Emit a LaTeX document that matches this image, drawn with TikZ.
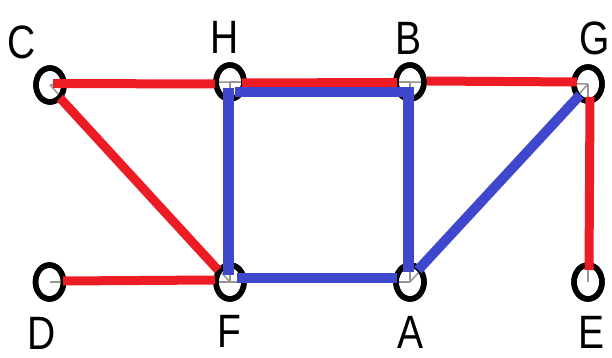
\documentclass[tikz,border=0pt]{standalone}
\usepackage{fontspec}
\setmainfont{Liberation Sans}
\usetikzlibrary{shapes.geometric}
\definecolor{edgered}{RGB}{237,28,36}
\definecolor{edgeblue}{RGB}{63,72,204}
\definecolor{thingray}{RGB}{150,150,150}
\newcommand\tallglyph[1]{\scalebox{1}[1.2]{#1}}
\begin{document}
\begin{tikzpicture}[x=1pt,y=1pt,
  vertex/.style={ellipse, draw=black, line width=5.5pt, minimum width=28pt,
                 minimum height=34pt, inner sep=0pt},
  lab/.style={font=\fontsize{39}{39}\selectfont, inner sep=0pt},
  thinedge/.style={draw=thingray, line width=1.5pt},
  redge/.style={draw=edgered, line width=9pt},
  bedge/.style={draw=edgeblue, line width=10pt}]
\useasboundingbox[fill=white] (0,0) rectangle (612,358);

% vertices
\node[vertex] (C) at (50,273) {};
\node[vertex] (H) at (230,276) {};
\node[vertex] (B) at (410,276) {};
\node[vertex] (G) at (588,274) {};
\node[vertex] (D) at (49.5,76) {};
\node[vertex] (F) at (230,76) {};
\node[vertex] (A) at (410,76) {};
\node[vertex] (E) at (588,76) {};

% labels
\node[lab] (lC) at (22,316) {\tallglyph{C}};
\node[lab] (lH) at (225,321) {\tallglyph{H}};
\node[lab] (lB) at (408,320) {\tallglyph{B}};
\node[lab] (lG) at (595,320) {\tallglyph{G}};
\node[lab] (lD) at (42,25) {\tallglyph{D}};
\node[lab] (lF) at (229,27) {\tallglyph{F}};
\node[lab] (lA) at (410,26) {\tallglyph{A}};
\node[lab] (lE) at (591,26) {\tallglyph{E}};

% thin centre-to-centre edges underneath
\foreach \u/\v in {C/H,H/B,B/G,G/E,C/F,D/F,H/F,F/A,B/A,A/G}
  \draw[thinedge] (\u.center) -- (\v.center);

% redraw the vertex outlines over the thin edges
\foreach \n in {C,H,B,G,D,F,A,E}
  \draw[black, line width=5.5pt] (\n.center) ellipse [x radius=14pt, y radius=17pt];

% red edges
\draw[redge] ([shift={(3,1.5)}]C.center) -- ([shift={(-15,-2)}]H.center);
\draw[redge] ([shift={(12,-1)}]H.center) -- ([shift={(-13,-0.5)}]B.center);
\draw[redge] ([shift={(17,1)}]B.center) -- ([shift={(-11,2)}]G.center);
\draw[redge] ([shift={(2,-13)}]G.center) -- ([shift={(1,12)}]E.center);
\draw[redge] ([shift={(10,-13)}]C.center) -- ([shift={(-12,12)}]F.center);
\draw[redge] ([shift={(13.5,1)}]D.center) -- ([shift={(-15,2)}]F.center);

% blue edges
\draw[bedge, line width=11pt] ([shift={(-2,-6)}]H.center) -- ([shift={(-2,7)}]F.center);
\draw[bedge] ([shift={(5,-10)}]H.center) -- ([shift={(3.5,-10)}]B.center);
\draw[bedge, line width=11pt] ([shift={(-2,-6)}]B.center) -- ([shift={(-2,10)}]A.center);
\draw[bedge] ([shift={(7,4)}]F.center) -- ([shift={(-13,4)}]A.center);
\draw[bedge] ([shift={(8,12)}]A.center) -- ([shift={(-8,-11)}]G.center);
\end{tikzpicture}
\end{document}
